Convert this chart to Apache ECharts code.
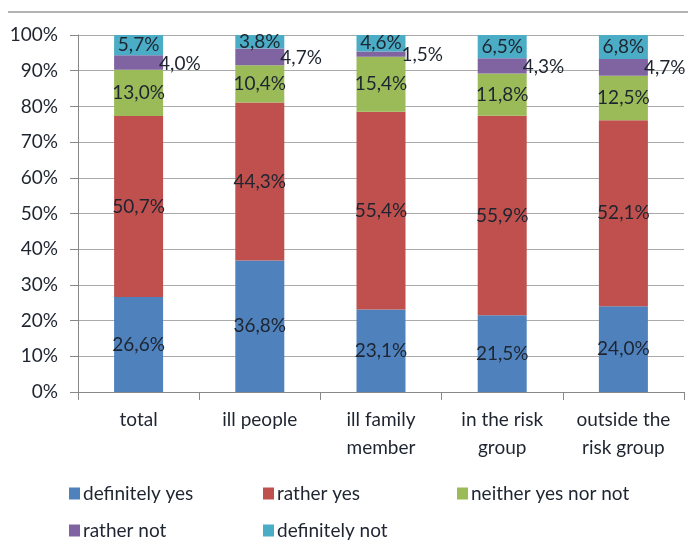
<!DOCTYPE html>
<html><head><meta charset="utf-8">
<script src="https://cdn.jsdelivr.net/npm/echarts@6/dist/echarts.min.js"></script>
<style>html,body{margin:0;padding:0;background:#fff}#c{width:688px;height:542px}</style>
</head><body><div id="c"></div>
<script>
const categories = ['total', 'ill people', 'ill family\nmember', 'in the risk\ngroup', 'outside the\nrisk group'];
const seriesNames = ['definitely yes', 'rather yes', 'neither yes nor not', 'rather not', 'definitely not'];
const definitelyYes = [26.6, 36.8, 23.1, 21.5, 24.0];
const ratherYes = [50.7, 44.3, 55.4, 55.9, 52.1];
const neitherYesNorNot = [13.0, 10.4, 15.4, 11.8, 12.5];
const ratherNot = [4.0, 4.7, 1.5, 4.3, 4.7];
const definitelyNot = [5.7, 3.8, 4.6, 6.5, 6.8];
const yTicks = [0, 10, 20, 30, 40, 50, 60, 70, 80, 90, 100];

const colors = ['#4F81BD', '#C0504D', '#9BBB59', '#8064A2', '#4BACC6'];
const values = [definitelyYes, ratherYes, neitherYesNorNot, ratherNot, definitelyNot];
const font = 'Lato, "Open Sans", sans-serif';
const fmt = p => p.value.toFixed(1).replace('.', ',') + '%';

const series = seriesNames.map((n, i) => ({
  name: n, type: 'bar', stack: 's', barWidth: 49,
  data: values[i],
  itemStyle: { color: colors[i] },
  label: {
    show: true,
    position: i === 3 ? 'right' : 'inside',
    distance: -4,
    offset: i === 3 ? [0, 1] : [0, 0],
    formatter: fmt,
    color: '#1e2530', fontSize: 19, fontFamily: font
  }
}));

const legendPos = [[64, 479], [258, 479], [452, 479], [64, 516], [258, 516]];
const legends = seriesNames.map((n, i) => ({
  data: [n], left: legendPos[i][0], top: legendPos[i][1],
  itemWidth: 11, itemHeight: 12, itemGap: 4, icon: 'rect',
  textStyle: { fontSize: 19, fontFamily: font, color: '#1e2530', padding: [0, 0, 0, -2] }
}));

const chart = echarts.init(document.getElementById('c'));
chart.setOption({
  animation: false,
  color: colors,
  grid: { left: 78, right: 4, top: 35, bottom: 150 },
  legend: legends,
  graphic: [{ type: 'line', shape: { x1: 8, y1: 12, x2: 688, y2: 12 }, style: { stroke: '#9a9a9a', lineWidth: 1.5 } }],
  xAxis: {
    type: 'category', data: categories,
    axisLine: { lineStyle: { color: '#888' } },
    axisTick: { show: true, length: 8, lineStyle: { color: '#888' } },
    axisLabel: { fontSize: 19, fontFamily: font, color: '#1e2530', margin: 14, lineHeight: 28, interval: 0 }
  },
  yAxis: {
    type: 'value', min: yTicks[0], max: yTicks[yTicks.length - 1], interval: 10,
    axisLine: { show: true, lineStyle: { color: '#888' } },
    axisTick: { show: true, length: 8, lineStyle: { color: '#888' } },
    splitLine: { lineStyle: { color: '#aaa' } },
    axisLabel: { formatter: '{value}%', fontSize: 19, fontFamily: font, color: '#1e2530', margin: 20 }
  },
  series: series
});
</script></body></html>
